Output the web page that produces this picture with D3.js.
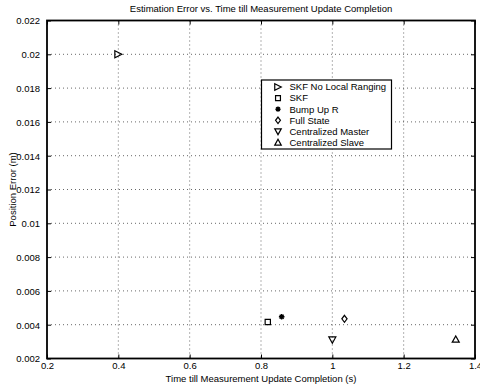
<!DOCTYPE html>
<html>
<head>
<meta charset="utf-8">
<script src="https://cdn.jsdelivr.net/npm/d3@7"></script>
<style>
  html, body { margin: 0; padding: 0; background: #fff; }
  svg { display: block; font-family: "Liberation Sans", Arial, Helvetica, sans-serif; }
</style>
</head>
<body>
<svg id="chart" width="480" height="386"></svg>
<script>
// Filter variants and their results
const methods = ["SKF No Local Ranging", "SKF", "Bump Up R", "Full State", "Centralized Master", "Centralized Slave"];
const completionTime = [0.40, 0.819, 0.858, 1.034, 1.00, 1.346];
const positionError = [0.0200, 0.00416, 0.00447, 0.00435, 0.00311, 0.00313];
const markerKinds = ["triRight", "square", "star", "diamond", "triDown", "triUp"];

const xTicks = [0.2, 0.4, 0.6, 0.8, 1.0, 1.2, 1.4];
const yTicks = [0.002, 0.004, 0.006, 0.008, 0.010, 0.012, 0.014, 0.016, 0.018, 0.020, 0.022];

const W = 480, H = 386;
const m = { left: 47, right: 5, top: 20.5, bottom: 27.5 };
const iw = W - m.left - m.right, ih = H - m.top - m.bottom;

const svg = d3.select("#chart");
const g = svg.append("g").attr("transform", `translate(${m.left},${m.top})`);

const x = d3.scaleLinear().domain([0.2, 1.4]).range([0, iw]);
const y = d3.scaleLinear().domain([0.002, 0.022]).range([ih, 0]);

const fmt = d => String(+d.toFixed(3));

// dotted grid
g.append("g").selectAll("line").data(xTicks.slice(1, -1)).join("line")
  .attr("x1", d => x(d)).attr("x2", d => x(d)).attr("y1", 0).attr("y2", ih)
  .attr("stroke", "#000").attr("stroke-width", 0.6).attr("stroke-dasharray", "1,3");
g.append("g").selectAll("line").data(yTicks.slice(1, -1)).join("line")
  .attr("x1", 0).attr("x2", iw).attr("y1", d => y(d)).attr("y2", d => y(d))
  .attr("stroke", "#000").attr("stroke-width", 0.6).attr("stroke-dasharray", "1,3");

// axes with inward ticks on all four sides
const tl = 4;
const bottomAxis = g.append("g").attr("transform", `translate(0,${ih})`)
  .call(d3.axisBottom(x).tickValues(xTicks).tickFormat(fmt).tickSizeInner(-tl).tickSizeOuter(0).tickPadding(tl + 2));
const leftAxis = g.append("g")
  .call(d3.axisLeft(y).tickValues(yTicks).tickFormat(fmt).tickSizeInner(-tl).tickSizeOuter(0).tickPadding(tl + 3));
const topAxis = g.append("g")
  .call(d3.axisTop(x).tickValues(xTicks).tickFormat("").tickSizeInner(-tl).tickSizeOuter(0));
const rightAxis = g.append("g").attr("transform", `translate(${iw},0)`)
  .call(d3.axisRight(y).tickValues(yTicks).tickFormat("").tickSizeInner(-tl).tickSizeOuter(0));

[bottomAxis, leftAxis, topAxis, rightAxis].forEach(a => {
  a.select(".domain").remove();
  a.selectAll(".tick line").attr("stroke", "#000").attr("stroke-width", 1);
  a.selectAll(".tick text").attr("font-size", 9.5).attr("fill", "#000")
    .attr("font-family", "'Liberation Sans', Arial, sans-serif");
});
bottomAxis.selectAll(".tick text").attr("dy", "0.5em");
leftAxis.selectAll(".tick text").attr("dy", "0.35em");

// box frame
g.append("rect").attr("x", 0).attr("y", 0).attr("width", iw).attr("height", ih)
  .attr("fill", "none").attr("stroke", "#000").attr("stroke-width", 1.8);

// marker shapes
function markerPath(kind, s) {
  const r = s / 2;
  switch (kind) {
    case "triRight": return `M${-r},${-r}L${r},0L${-r},${r}Z`;
    case "triDown": return `M${-r},${-r * 0.8}L${r},${-r * 0.8}L0,${r}Z`;
    case "triUp": return `M${-r},${r * 0.8}L${r},${r * 0.8}L0,${-r}Z`;
    case "square": { const q = r * 0.75; return `M${-q},${-q}L${q},${-q}L${q},${q}L${-q},${q}Z`; }
    case "diamond": return `M0,${-r}L${r * 0.75},0L0,${r}L${-r * 0.75},0Z`;
    case "star": {
      let p = "";
      for (let i = 0; i < 4; i++) {
        const a = i * Math.PI / 4;
        const dx = Math.cos(a) * r * 0.8, dy = Math.sin(a) * r * 0.8;
        p += `M${-dx},${-dy}L${dx},${dy}`;
      }
      return p;
    }
  }
}

function drawMarker(sel, kind, s) {
  sel.append("path").attr("d", markerPath(kind, s))
    .attr("fill", "none").attr("stroke", "#000")
    .attr("stroke-width", kind === "star" ? 1.4 : 1.2)
    .attr("stroke-linejoin", "miter");
}

// data points
methods.forEach((name, i) => {
  const pt = g.append("g").attr("transform", `translate(${x(completionTime[i])},${y(positionError[i])})`);
  drawMarker(pt, markerKinds[i], 7);
});

// legend
const lg = svg.append("g").attr("transform", "translate(261.5,80)");
lg.append("rect").attr("width", 130).attr("height", 69)
  .attr("fill", "#fff").attr("stroke", "#000").attr("stroke-width", 1.2);
methods.forEach((name, i) => {
  const row = lg.append("g").attr("transform", `translate(0,${7 + i * 11.1})`);
  drawMarker(row.append("g").attr("transform", "translate(16.5,0)"), markerKinds[i], 6.5);
  row.append("text").attr("x", 28).attr("y", 0).attr("dy", "0.35em")
    .attr("font-size", 9.5).text(name);
});

// titles
svg.append("text").attr("x", m.left + iw / 2).attr("y", 12).attr("text-anchor", "middle")
  .attr("font-size", 9.5).text("Estimation Error vs. Time till Measurement Update Completion");
svg.append("text").attr("x", m.left + iw / 2).attr("y", 382).attr("text-anchor", "middle")
  .attr("font-size", 9.5).text("Time till Measurement Update Completion (s)");
svg.append("text").attr("transform", `translate(16,${m.top + ih / 2}) rotate(-90)`)
  .attr("text-anchor", "middle").attr("font-size", 9.5).text("Position Error (m)");
</script>
</body>
</html>
